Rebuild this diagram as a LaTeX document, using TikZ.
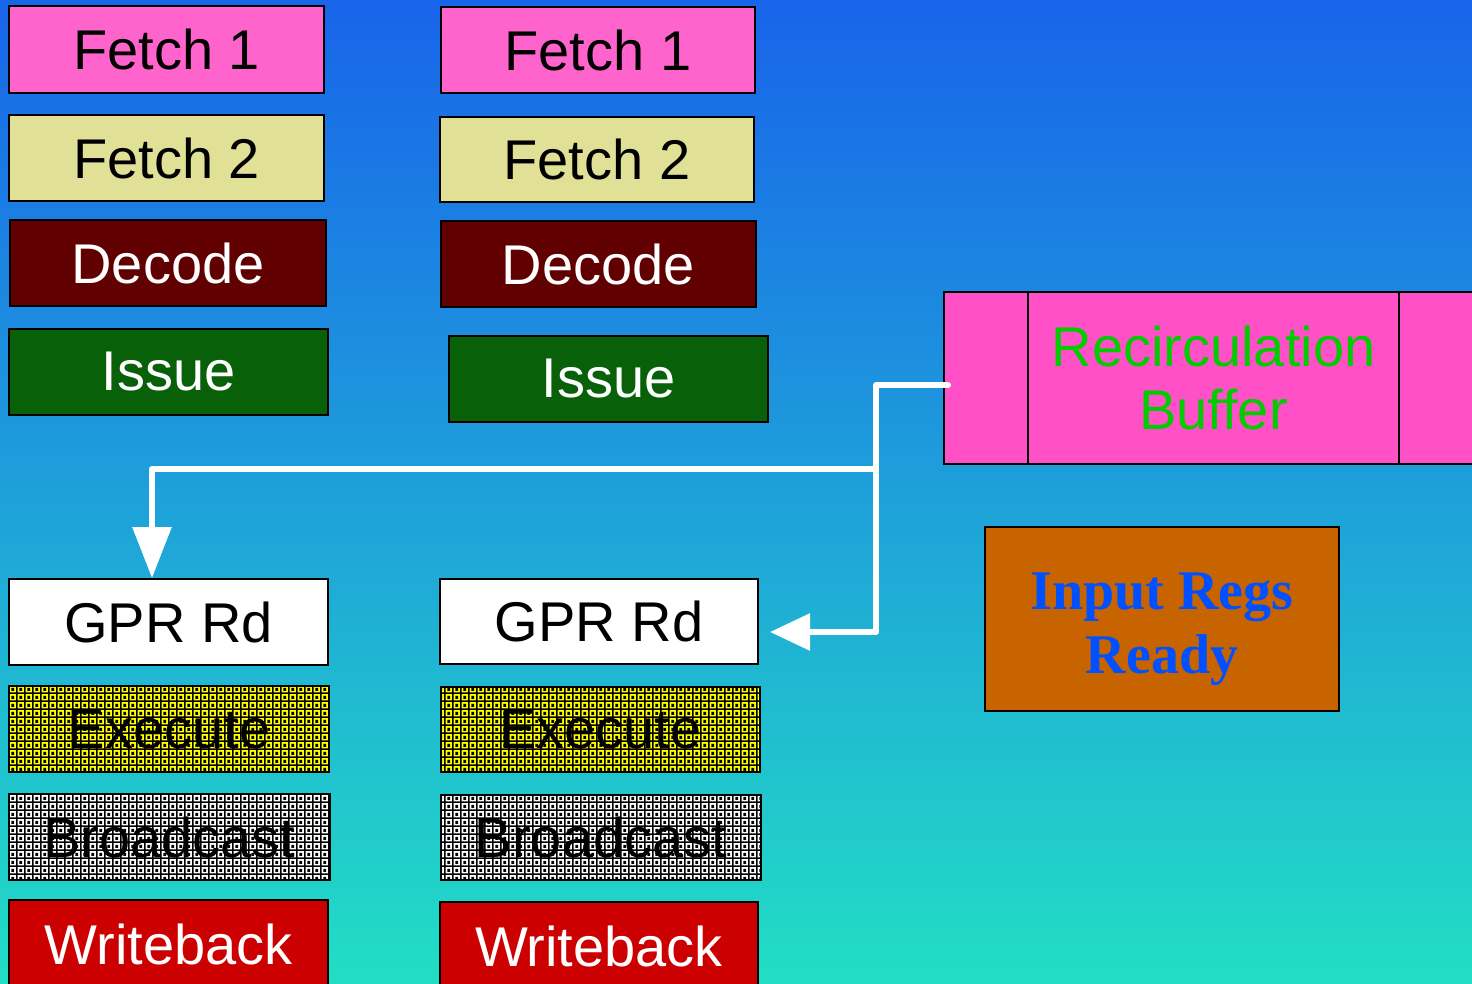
\documentclass[tikz,border=0pt]{standalone}
\usepackage{fontspec}
\setmainfont{Liberation Sans}
\newfontfamily\timesfont{Liberation Serif}
\usetikzlibrary{arrows.meta,patterns}

% dotted mesh used for the Execute and Broadcast stages
\pgfdeclarepatternformonly{meshdots}{\pgfpointorigin}{\pgfqpoint{8.4pt}{8.4pt}}{\pgfqpoint{8.4pt}{8.4pt}}{%
  \pgfpathrectangle{\pgfqpoint{0pt}{0pt}}{\pgfqpoint{1.8pt}{8.4pt}}%
  \pgfpathrectangle{\pgfqpoint{1.8pt}{0pt}}{\pgfqpoint{6.6pt}{1.6pt}}%
  \pgfpathrectangle{\pgfqpoint{3.6pt}{3.4pt}}{\pgfqpoint{3pt}{3pt}}%
  \pgfusepath{fill}}

\definecolor{bgtop}{RGB}{24,100,234}
\definecolor{bgmid}{RGB}{30,160,218}
\definecolor{bgbot}{RGB}{34,222,196}
\definecolor{fetchone}{RGB}{255,100,204}
\definecolor{fetchtwo}{RGB}{224,224,150}
\definecolor{decodec}{RGB}{96,0,0}
\definecolor{issuec}{RGB}{8,96,8}
\definecolor{execc}{RGB}{255,255,0}
\definecolor{wbc}{RGB}{204,0,0}
\definecolor{rbc}{RGB}{255,80,200}
\definecolor{rbtext}{RGB}{0,204,0}
\definecolor{irc}{RGB}{200,100,0}
\definecolor{irtext}{RGB}{0,80,255}

\tikzset{
  stage/.style={draw=black, line width=2pt, anchor=north west, inner sep=0pt,
    minimum width=#1, font=\fontsize{56}{63}\selectfont, align=center},
  stage/.default=316pt,
  tall/.style={minimum height=#1},
  tall/.default=86pt,
  meshed/.style={preaction={fill=#1}, pattern=meshdots, pattern color=black},
  flow/.style={draw=white, line width=6pt},
}

\begin{document}
\begin{tikzpicture}[x=1pt,y=1pt]
\useasboundingbox (0,0) rectangle (1472,-983);
\shade[top color=bgtop, bottom color=bgbot, middle color=bgmid] (0,0) rectangle (1472,-983);

% left pipeline
\node[stage=315pt, tall=87pt, fill=fetchone] (f1a) at (8,-5) {Fetch 1};
\node[stage=315pt, tall, fill=fetchtwo] (f2a) at (8,-114) {Fetch 2};
\node[stage=316pt, tall, fill=decodec, text=white] (dea) at (9,-219) {Decode};
\node[stage=319pt, tall, fill=issuec, text=white] (isa) at (8,-328) {Issue};
\node[stage=319pt, tall, fill=white] (gpra) at (8,-578) {GPR Rd};
\node[stage=320pt, tall, meshed=execc] (exa) at (8,-685) {Execute};
\node[stage=321pt, tall, meshed=white] (bca) at (8,-793) {Broadcast};
\node[stage=319pt, tall=88pt, fill=wbc, text=white] (wba) at (8,-899) {Writeback};

% right pipeline
\node[stage=314pt, tall, fill=fetchone] (f1b) at (440,-6) {Fetch 1};
\node[stage=314pt, tall=85pt, fill=fetchtwo] (f2b) at (439,-116) {Fetch 2};
\node[stage=315pt, tall, fill=decodec, text=white] (deb) at (440,-220) {Decode};
\node[stage=319pt, tall, fill=issuec, text=white] (isb) at (448,-335) {Issue};
\node[stage=318pt, tall=85pt, fill=white] (gprb) at (439,-578) {GPR Rd};
\node[stage=319pt, tall=85pt, meshed=execc] (exb) at (440,-686) {Execute};
\node[stage=320pt, tall=85pt, meshed=white] (bcb) at (440,-794) {Broadcast};
\node[stage=318pt, tall=88pt, fill=wbc, text=white] (wbb) at (439,-901) {Writeback};

% recirculation buffer
\node[stage=540pt, tall=172pt, fill=rbc] (rb) at (943,-291) {};
\node[stage=371pt, tall=172pt, text=rbtext] (rbin) at (1027,-291) {Recirculation\\Buffer};

% input-ready condition
\node[stage=354pt, tall=184pt, fill=irc] (irr) at (984,-526) {};
\node[text=irtext, inner sep=0pt, align=center,
      font=\timesfont\bfseries\fontsize{56}{64}\selectfont] (irrtext)
  at ([yshift=-10pt]irr.center) {Input Regs\\Ready};

% feedback paths from the buffer to both register-read stages
\coordinate (rbout) at ([xshift=5pt,yshift=-7pt]rb.west);
\coordinate (split) at (876,-469);
\draw[flow, line cap=round, line join=round,
      -{Triangle[length=40pt,width=36pt]}]
  (rbout) -| (split) |- ([xshift=11pt,yshift=-10.5pt]gprb.east);
\draw[flow, line join=round, -{Triangle[length=51pt,width=38pt]}]
  (split) -| ([xshift=-16.5pt]gpra.north);
\end{tikzpicture}
\end{document}
